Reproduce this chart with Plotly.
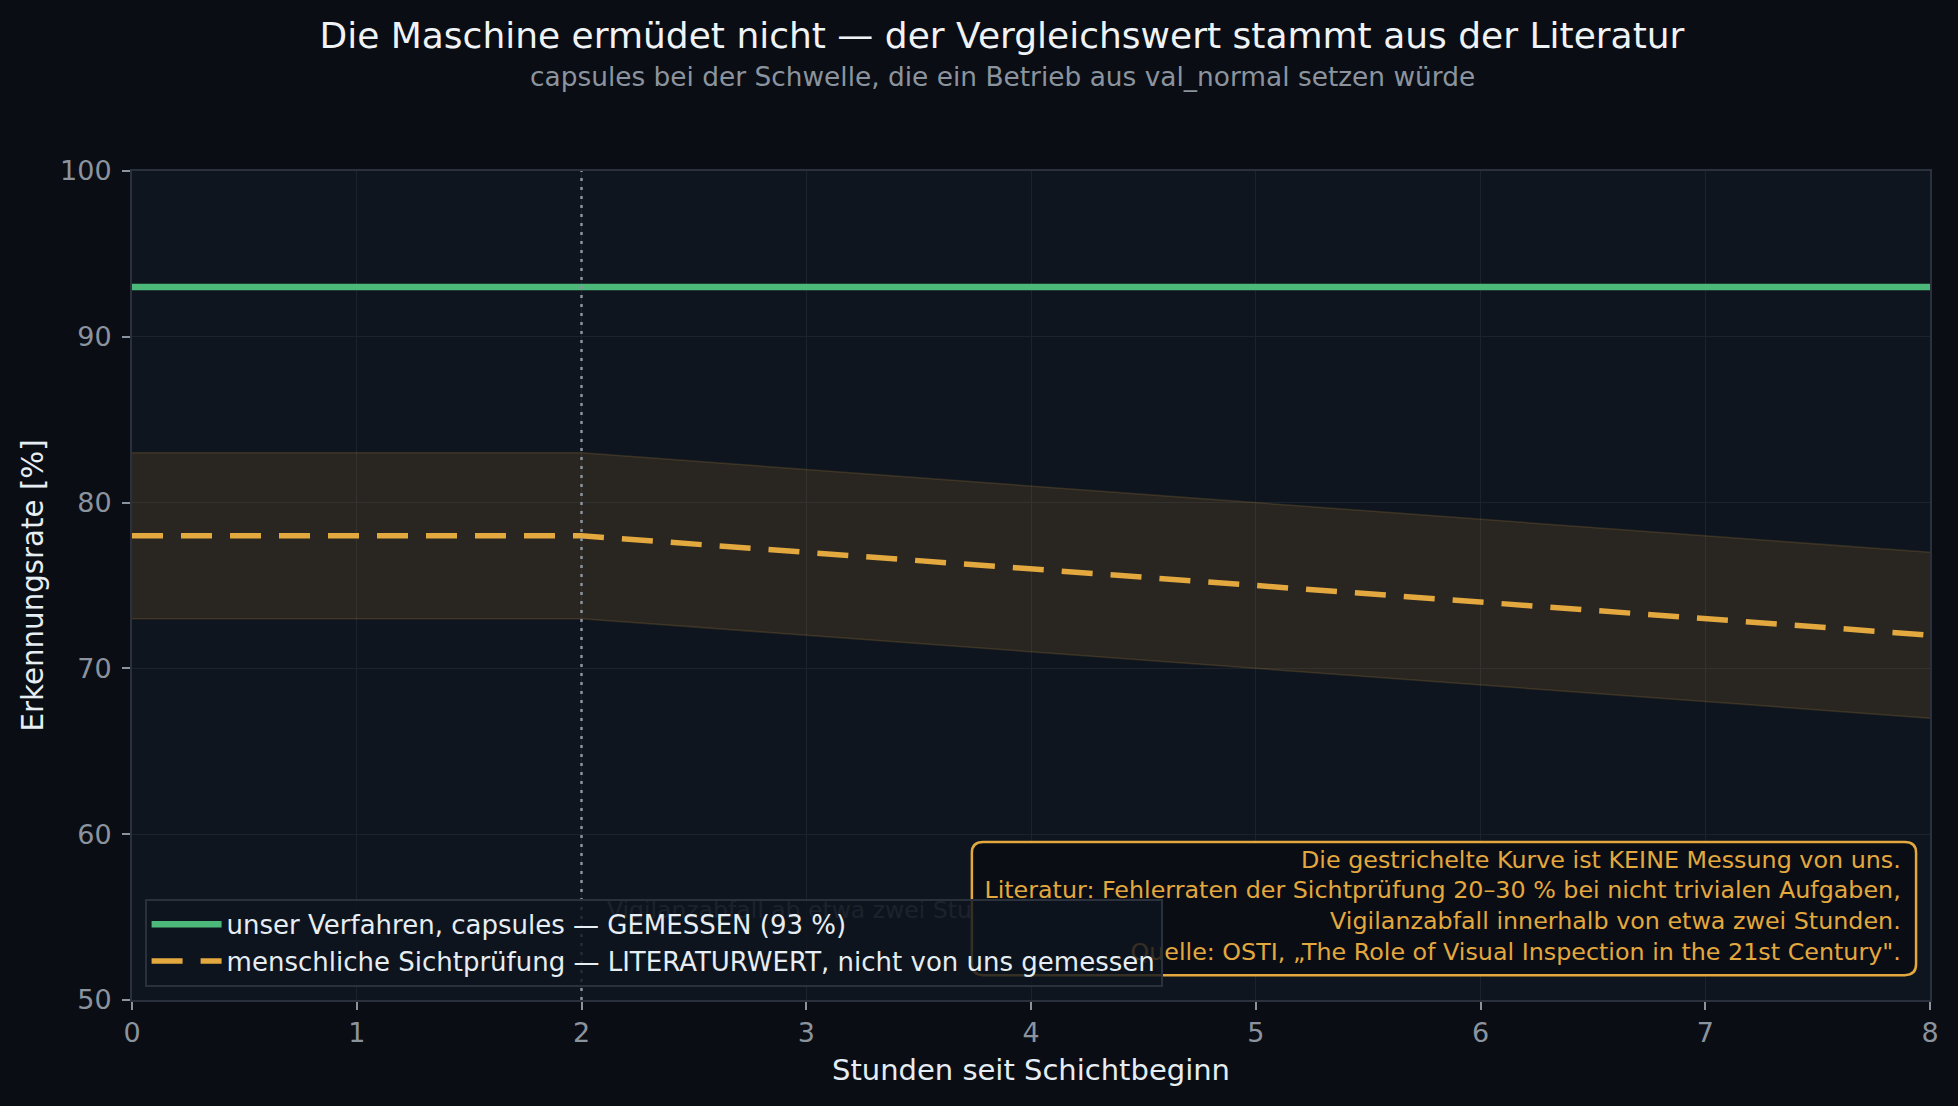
import plotly.graph_objects as go

# Stunden seit Schichtbeginn
hours = [0, 1, 2, 3, 4, 5, 6, 7, 8]

# gemessene Erkennungsrate der Maschine (konstant)
machine_rate = [93, 93, 93, 93, 93, 93, 93, 93, 93]

# Literaturwert menschliche Sichtpruefung, mit Band
human_rate = [78, 78, 78, 77, 76, 75, 74, 73, 72]
human_upper = [83, 83, 83, 82, 81, 80, 79, 78, 77]
human_lower = [73, 73, 73, 72, 71, 70, 69, 68, 67]

x_ticks = [0, 1, 2, 3, 4, 5, 6, 7, 8]
y_ticks = [50, 60, 70, 80, 90, 100]

vigilance_hour = 2

title = "Die Maschine ermüdet nicht — der Vergleichswert stammt aus der Literatur"
subtitle = "capsules bei der Schwelle, die ein Betrieb aus val_normal setzen würde"
note_lines = [
    "Die gestrichelte Kurve ist KEINE Messung von uns.",
    "Literatur: Fehlerraten der Sichtprüfung 20–30 % bei nicht trivialen Aufgaben,",
    "Vigilanzabfall innerhalb von etwa zwei Stunden.",
    "Quelle: OSTI, „The Role of Visual Inspection in the 21st Century\".",
]

FONT = "DejaVu Sans"
PAPER = "#0a0d14"
PLOT = "#0f151f"
GREEN = "#4cb97a"
ORANGE = "#e3a83e"
MUTED = "#8b949e"
TEXT = "#e6edf3"

fig = go.Figure()

# band of the literature value
fig.add_trace(go.Scatter(x=hours, y=human_lower, mode="lines",
                         line=dict(color="rgba(227,168,60,0.16)", width=1.5),
                         showlegend=False, hoverinfo="skip"))
fig.add_trace(go.Scatter(x=hours, y=human_upper, mode="lines", fill="tonexty",
                         fillcolor="rgba(227,168,60,0.12)",
                         line=dict(color="rgba(227,168,60,0.16)", width=1.5),
                         showlegend=False, hoverinfo="skip"))

fig.add_trace(go.Scatter(x=hours, y=machine_rate, mode="lines",
                         name="unser Verfahren, capsules — GEMESSEN (93 %)",
                         line=dict(color=GREEN, width=6.5)))
fig.add_trace(go.Scatter(x=hours, y=human_rate, mode="lines",
                         name="menschliche Sichtprüfung — LITERATURWERT, nicht von uns gemessen",
                         line=dict(color=ORANGE, width=5.5, dash="31px,18px")))

# note text as a text trace, so the legend sits on top of it
fig.add_trace(go.Scatter(x=[7.87], y=[55.55], mode="text",
                         text=["<br>".join(note_lines)],
                         textposition="middle left",
                         textfont=dict(family=FONT, size=23.8, color=ORANGE),
                         showlegend=False, hoverinfo="skip"))

# vigilance marker
fig.add_shape(type="line", x0=vigilance_hour, x1=vigilance_hour, y0=0, y1=1,
              xref="x", yref="paper", layer="above",
              line=dict(color=MUTED, width=2.5, dash="3px,6px"))
fig.add_shape(type="rect", x0=2.1, x1=2.1, y0=55.5, y1=55.5,
              xref="x", yref="y", layer="below",
              line=dict(width=0), fillcolor="rgba(0,0,0,0)",
              label=dict(text="Vigilanzabfall ab etwa zwei Stunden",
                         textposition="middle left", xanchor="left",
                         yanchor="middle", padding=0,
                         font=dict(family=FONT, size=23.5,
                                   color="rgba(139,148,158,0.6)")))

# rounded note box
x0, x1, y0, y1 = 3.737, 7.938, 51.5, 59.53
rx, ry = 0.05, 0.65
box = (f"M {x0+rx},{y0} L {x1-rx},{y0} Q {x1},{y0} {x1},{y0+ry} "
       f"L {x1},{y1-ry} Q {x1},{y1} {x1-rx},{y1} L {x0+rx},{y1} "
       f"Q {x0},{y1} {x0},{y1-ry} L {x0},{y0+ry} Q {x0},{y0} {x0+rx},{y0} Z")
fig.add_shape(type="path", path=box, xref="x", yref="y", layer="between",
              fillcolor=PAPER, line=dict(color=ORANGE, width=2.5))

fig.add_annotation(text=subtitle, xref="paper", yref="paper", x=0.4839, y=1.1134,
                   xanchor="center", yanchor="middle", showarrow=False,
                   font=dict(family=FONT, size=26.4, color=MUTED))

axis_common = dict(
    showline=True, mirror=True, linecolor="#2a313c", linewidth=2,
    showgrid=True, gridcolor="#1c232d", gridwidth=1, zeroline=False,
    ticks="outside", ticklen=8, tickwidth=1.5, tickcolor=MUTED,
    tickfont=dict(family=FONT, size=27, color=MUTED),
    automargin=False,
)

fig.update_layout(
    width=1958, height=1106,
    paper_bgcolor=PAPER, plot_bgcolor=PLOT,
    margin=dict(l=132, r=28, t=171, b=106),
    font=dict(family=FONT, color=TEXT),
    title=dict(text=title, x=0.5117, xref="container", xanchor="center",
               y=0.9684, yanchor="middle",
               font=dict(family=FONT, size=36, color="#f0f3f6")),
    xaxis=dict(range=[0, 8], tickvals=x_ticks,
               title=dict(text="Stunden seit Schichtbeginn", standoff=12,
                          font=dict(family=FONT, size=29, color=TEXT)),
               **axis_common),
    yaxis=dict(range=[50, 100], tickvals=y_ticks, ticklabelstandoff=5,
               title=dict(text="Erkennungsrate [%]", standoff=8,
                          font=dict(family=FONT, size=29.3, color=TEXT)),
               **axis_common),
    legend=dict(x=0.007, y=0.016, xanchor="left", yanchor="bottom",
                traceorder="normal", itemwidth=70,
                bgcolor="rgba(15,21,31,0.82)", bordercolor="#2a313c", borderwidth=2,
                font=dict(family=FONT, size=26, color=TEXT)),
    showlegend=True,
)

fig.write_html("out.html", config={"displayModeBar": False},
               post_script="document.body.style.margin='0';"
                           "document.body.style.background='#0a0d14';")
